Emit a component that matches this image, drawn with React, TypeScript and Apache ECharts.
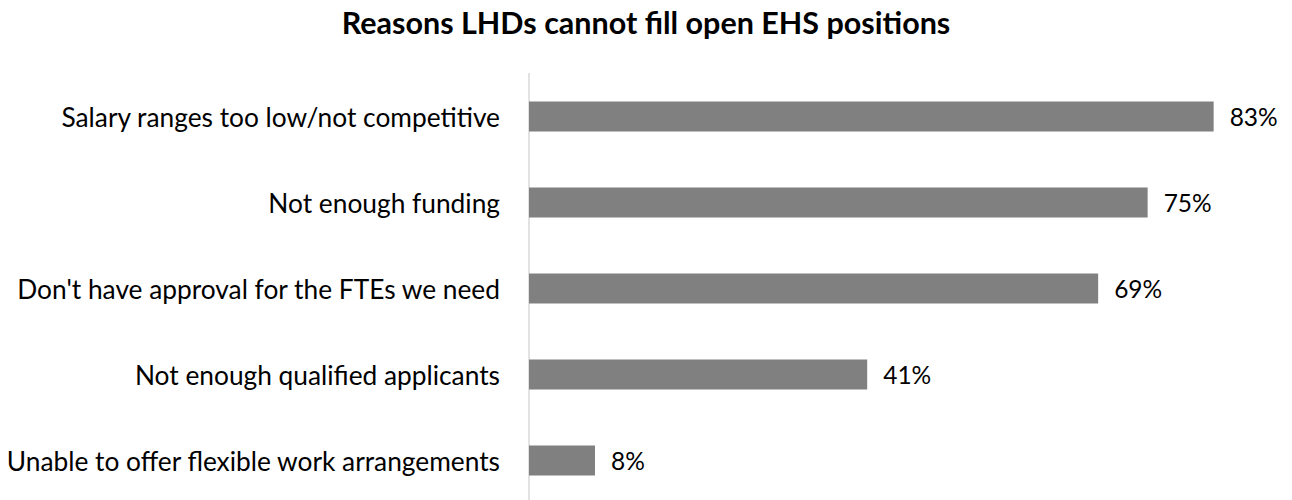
import React, { useEffect, useRef } from "react";
import * as echarts from "echarts";

const titleText = "Reasons LHDs cannot fill open EHS positions";
const categories = [
  "Salary ranges too low/not competitive",
  "Not enough funding",
  "Don't have approval for the FTEs we need",
  "Not enough qualified applicants",
  "Unable to offer flexible work arrangements",
];
const values = [83, 75, 69, 41, 8];
const axisMax = 92.5;

const FONT = "Lato, 'Noto Sans', sans-serif";

export default function App() {
  const ref = useRef<HTMLDivElement>(null);
  useEffect(() => {
    if (!ref.current) return;
    const chart = echarts.init(ref.current, null, { renderer: "svg" });
    chart.setOption({
      animation: false,
      backgroundColor: "#ffffff",
      title: {
        text: titleText,
        left: "center",
        top: 1,
        textStyle: {
          fontFamily: FONT,
          fontWeight: "bold",
          fontSize: 30.5,
          color: "#000000",
        },
      },
      grid: {
        left: 529,
        top: 73.5,
        right: 0,
        height: 430,
        containLabel: false,
      },
      xAxis: {
        type: "value",
        min: 0,
        max: axisMax,
        show: false,
      },
      yAxis: {
        type: "category",
        data: categories,
        inverse: true,
        axisLine: { show: true, lineStyle: { color: "#d9d9d9", width: 1.5 } },
        axisTick: { show: false },
        axisLabel: {
          margin: 29,
          fontFamily: FONT,
          fontSize: 26.3,
          color: "#000000",
        },
        splitLine: { show: false },
      },
      series: [
        {
          type: "bar",
          data: values,
          barWidth: 30,
          itemStyle: { color: "#808080" },
          label: {
            show: true,
            position: "right",
            distance: 16,
            formatter: "{c}%",
            fontFamily: FONT,
            fontSize: 24.5,
            color: "#000000",
          },
        },
      ],
    });
    return () => chart.dispose();
  }, []);
  return (
    <div
      style={{
        position: "absolute",
        left: 0,
        top: 0,
        width: 1292,
        height: 500,
        overflow: "hidden",
        background: "#ffffff",
      }}
    >
      <div ref={ref} style={{ width: 1292, height: 504 }} />
    </div>
  );
}
